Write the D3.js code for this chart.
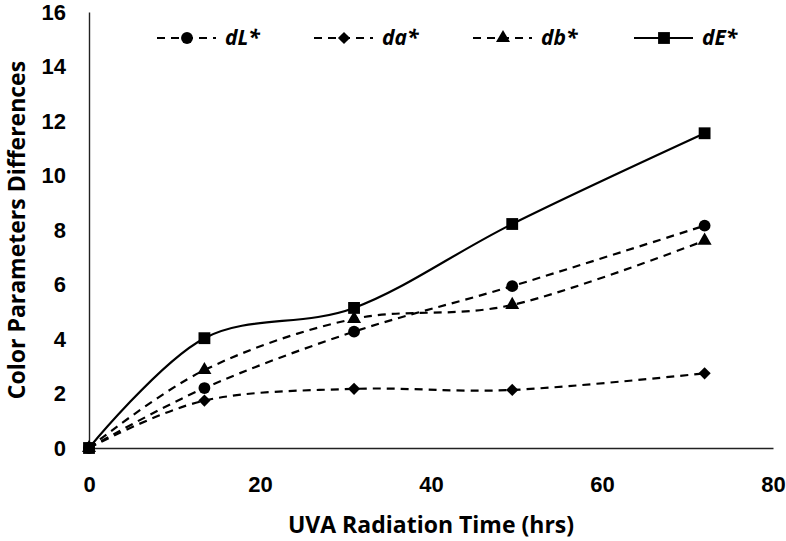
<!DOCTYPE html>
<html>
<head>
<meta charset="utf-8">
<script src="https://cdn.jsdelivr.net/npm/d3@7"></script>
<style>
  body { margin: 0; background: #fff; }
  svg { display: block; font-family: "Open Sans", "Noto Sans", sans-serif; }
  .axis text { font-size: 22px; font-weight: 700; fill: #000; }
  .axis path { stroke: #222; stroke-width: 1.4; }
  .title { font-size: 23px; font-weight: 700; fill: #000; }
  .legend text { font-size: 21px; font-weight: 700; font-style: italic; fill: #000; }
</style>
</head>
<body>
<svg id="chart" width="786" height="541"></svg>
<script>
// hours of UVA exposure
const hours = [0, 13.5, 31, 49.5, 72];

const dL = [0, 2.2, 4.27, 5.94, 8.16];
const da = [0, 1.74, 2.17, 2.13, 2.74];
const db = [0, 2.86, 4.74, 5.25, 7.61];
const dE = [0, 4.03, 5.14, 8.22, 11.55];

const xTicks = [0, 20, 40, 60, 80];
const yTicks = [0, 2, 4, 6, 8, 10, 12, 14, 16];

const series = [
    { name: "dL*", values: dL, marker: d3.symbolCircle, dashed: true },
    { name: "da*", values: da, marker: d3.symbolDiamond2, dashed: true },
    { name: "db*", values: db, marker: d3.symbolTriangle, dashed: true },
    { name: "dE*", values: dE, marker: d3.symbolSquare, dashed: false },
];

const markerSize = { "dL*": 110, "da*": 95, "db*": 85, "dE*": 140 };

const svg = d3.select("#chart");

const x = d3.scaleLinear().domain([0, 80]).range([89, 773]);
const y = d3.scaleLinear().domain([0, 16]).range([448, 12]);

// axes
svg.append("g")
    .attr("class", "axis")
    .attr("transform", `translate(0,${y(0)})`)
    .call(d3.axisBottom(x).tickValues(xTicks).tickSize(0).tickPadding(28).tickSizeOuter(0))
    .call(g => g.selectAll(".tick line").remove());

svg.append("g")
    .attr("class", "axis")
    .attr("transform", `translate(${x(0)},0)`)
    .call(d3.axisLeft(y).tickValues(yTicks).tickSize(0).tickPadding(23).tickSizeOuter(0))
    .call(g => g.selectAll(".tick line").remove());

// axis titles
svg.append("text")
    .attr("class", "title")
    .attr("x", (x(0) + x(80)) / 2)
    .attr("y", 533)
    .attr("text-anchor", "middle")
    .text("UVA Radiation Time (hrs)");

svg.append("text")
    .attr("class", "title")
    .attr("transform", `translate(25,${(y(0) + y(16)) / 2}) rotate(-90)`)
    .attr("text-anchor", "middle")
    .text("Color Parameters Differences");

// lines
const line = d3.line()
    .x((d, i) => x(hours[i]))
    .y(d => y(d))
    .curve(d3.curveCardinal.tension(0));

const plot = svg.append("g");

series.forEach(s => {
    plot.append("path")
        .attr("d", line(s.values))
        .attr("fill", "none")
        .attr("stroke", "#000")
        .attr("stroke-width", 2.2)
        .attr("stroke-dasharray", s.dashed ? "8,6" : null);
});

series.forEach(s => {
    plot.selectAll(null)
        .data(s.values)
        .enter()
        .append("path")
        .attr("d", d3.symbol(s.marker, markerSize[s.name]))
        .attr("transform", (d, i) => `translate(${x(hours[i])},${y(d)})`)
        .attr("fill", "#000");
});

// legend
const legendX = [187, 344, 503, 664];
const legendY = 38;

const legend = svg.append("g").attr("class", "legend");

const rows = legend.selectAll("g")
    .data(series)
    .enter()
    .append("g")
    .attr("transform", (_, i) => `translate(${legendX[i]},${legendY})`);

rows.append("line")
    .attr("x1", -30)
    .attr("x2", 29)
    .attr("stroke", "#000")
    .attr("stroke-width", 2.2)
    .attr("stroke-dasharray", d => d.dashed ? "8,6" : null);

rows.append("path")
    .attr("d", d => d3.symbol(d.marker, markerSize[d.name])())
    .attr("fill", "#000");

rows.append("text")
    .attr("x", 38)
    .attr("dy", "0.35em")
    .text(d => d.name);
</script>
</body>
</html>
